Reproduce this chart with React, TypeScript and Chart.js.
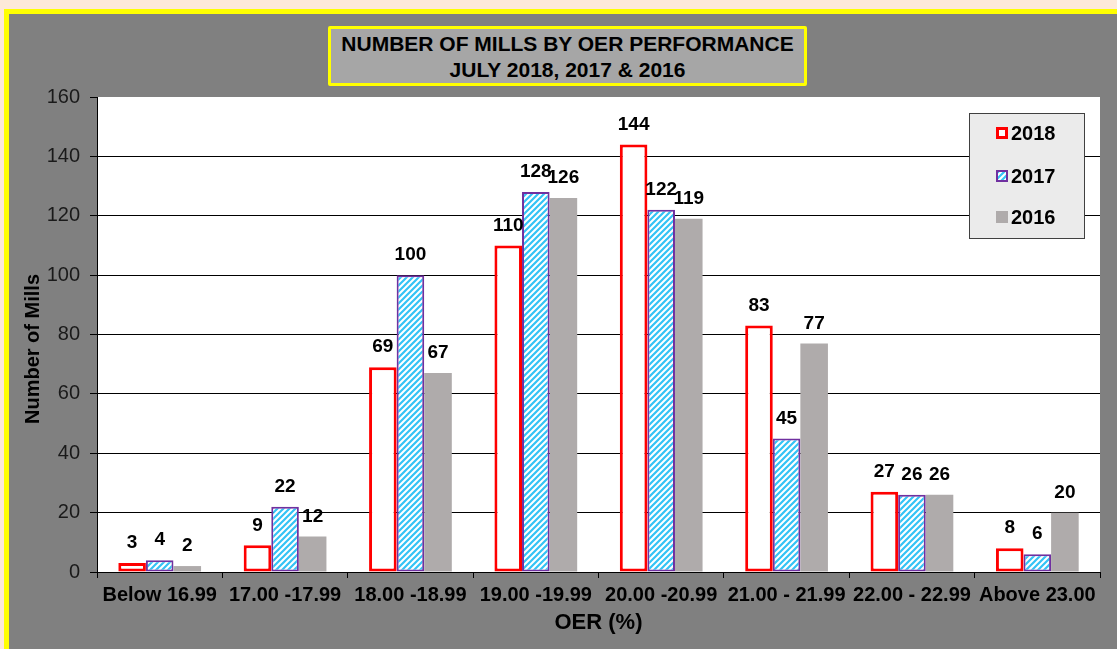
import React, { useEffect, useRef } from "react";
import { Chart, registerables } from "chart.js";

Chart.register(...registerables);

const categories = [
  "Below 16.99",
  "17.00 -17.99",
  "18.00 -18.99",
  "19.00 -19.99",
  "20.00 -20.99",
  "21.00 - 21.99",
  "22.00 - 22.99",
  "Above 23.00",
];
const values2018 = [3, 9, 69, 110, 144, 83, 27, 8];
const values2017 = [4, 22, 100, 128, 122, 45, 26, 6];
const values2016 = [2, 12, 67, 126, 119, 77, 26, 20];
const seriesNames = ["2018", "2017", "2016"];
const yMin = 0;
const yMax = 160;
const yStep = 20;
const titleLines = ["NUMBER OF MILLS BY OER PERFORMANCE", "JULY 2018, 2017 & 2016"];
const xTitle = "OER (%)";
const yTitle = "Number of Mills";

const FONT = '"Liberation Sans", Arial, Helvetica, sans-serif';
const RED = "#ff0000";
const PURPLE = "#7030a0";
const BLUE = "#33c3f5";
const GRAY16 = "#afabab";

function makeStripePattern(ctx: CanvasRenderingContext2D): CanvasPattern | string {
  const p = document.createElement("canvas");
  p.width = 6;
  p.height = 6;
  const c = p.getContext("2d");
  if (!c) return BLUE;
  c.fillStyle = "#ffffff";
  c.fillRect(0, 0, 6, 6);
  c.strokeStyle = BLUE;
  c.lineWidth = 2.2;
  c.beginPath();
  c.moveTo(-1, 7);
  c.lineTo(7, -1);
  c.moveTo(-4, 4);
  c.lineTo(4, -4);
  c.moveTo(2, 10);
  c.lineTo(10, 2);
  c.stroke();
  return ctx.createPattern(p, "repeat") || BLUE;
}

export default function App() {
  const canvasRef = useRef<HTMLCanvasElement | null>(null);

  useEffect(() => {
    const canvas = canvasRef.current;
    if (!canvas) return;
    const ctx = canvas.getContext("2d");
    if (!ctx) return;
    const stripe = makeStripePattern(ctx);

    const plotBg = {
      id: "plotBg",
      beforeDraw(chart: any) {
        const { ctx: c, chartArea: a } = chart;
        c.save();
        c.fillStyle = "#ffffff";
        c.fillRect(a.left, a.top, a.right - a.left, a.bottom - a.top);
        c.restore();
      },
    };

    const yAxisTitle = {
      id: "yAxisTitle",
      afterDraw(chart: any) {
        const c = chart.ctx;
        c.save();
        c.translate(33, 349);
        c.rotate(-Math.PI / 2);
        c.font = `bold 20px ${FONT}`;
        c.fillStyle = "#000000";
        c.textAlign = "center";
        c.textBaseline = "middle";
        c.fillText(yTitle, 0, 0);
        c.restore();
      },
    };

    const valueLabels = {
      id: "valueLabels",
      afterDatasetsDraw(chart: any) {
        const c = chart.ctx;
        c.save();
        c.font = `bold 19px ${FONT}`;
        c.fillStyle = "#000000";
        c.textAlign = "center";
        c.textBaseline = "middle";
        chart.data.datasets.forEach((ds: any, di: number) => {
          const meta = chart.getDatasetMeta(di);
          meta.data.forEach((el: any, i: number) => {
            c.fillText(String(ds.data[i]), el.x, el.y - 20);
          });
        });
        c.restore();
      },
    };

    const legendBox = {
      id: "legendBox",
      afterDraw(chart: any) {
        const c = chart.ctx;
        const bx = 969, by = 113, bw = 116, bh = 126;
        c.save();
        c.fillStyle = "#ebebeb";
        c.fillRect(bx, by, bw, bh);
        c.strokeStyle = "#404040";
        c.lineWidth = 1;
        c.strokeRect(bx + 0.5, by + 0.5, bw - 1, bh - 1);
        const rows = [133, 176, 217];
        c.font = `bold 20px ${FONT}`;
        c.textAlign = "left";
        c.textBaseline = "middle";
        chart.data.datasets.forEach((ds: any, i: number) => {
          const y = rows[i];
          const sx = 996, sy = y - 6, s = 12;
          if (i === 0) {
            c.fillStyle = RED;
            c.fillRect(sx, sy, s, s);
            c.fillStyle = "#ffffff";
            c.fillRect(sx + 3, sy + 3, s - 6, s - 6);
          } else if (i === 1) {
            c.fillStyle = PURPLE;
            c.fillRect(sx, sy, s, s);
            c.fillStyle = stripe;
            c.fillRect(sx + 2, sy + 2, s - 4, s - 4);
          } else {
            c.fillStyle = GRAY16;
            c.fillRect(sx, sy, s, s);
          }
          c.fillStyle = "#000000";
          c.fillText(ds.label, 1011, y + 1);
        });
        c.restore();
      },
    };

    const chart = new Chart(canvas, {
      type: "bar",
      data: {
        labels: categories,
        datasets: [
          {
            label: seriesNames[0],
            data: values2018,
            backgroundColor: "#ffffff",
            borderColor: RED,
            borderWidth: 3,
            borderSkipped: false,
          },
          {
            label: seriesNames[1],
            data: values2017,
            backgroundColor: stripe as any,
            borderColor: PURPLE,
            borderWidth: 2,
            borderSkipped: false,
          },
          {
            label: seriesNames[2],
            data: values2016,
            backgroundColor: GRAY16,
            borderWidth: 0,
          },
        ],
      },
      options: {
        responsive: false,
        animation: false,
        datasets: {
          bar: { categoryPercentage: 0.66, barPercentage: 1.0 },
        },
        layout: { padding: { top: 97, right: 17, left: 0, bottom: 0 } },
        plugins: {
          legend: { display: false },
          title: { display: false },
          tooltip: { enabled: false },
        },
        scales: {
          x: {
            grid: {
              drawOnChartArea: false,
              drawTicks: true,
              tickLength: 6,
              color: "#000000",
              offset: true,
            },
            border: { color: "#000000", width: 1 },
            ticks: {
              color: "#000000",
              font: { family: FONT, size: 20, weight: "bold" },
              padding: 5,
              maxRotation: 0,
              minRotation: 0,
              autoSkip: false,
            },
            title: {
              display: true,
              text: xTitle,
              color: "#000000",
              font: { family: FONT, size: 22, weight: "bold" },
              padding: { top: 0, bottom: 13 },
            },
            afterFit(scale: any) {
              scale.height = 77;
            },
          },
          y: {
            min: yMin,
            max: yMax,
            ticks: {
              stepSize: yStep,
              color: "#1a1a1a",
              font: { family: FONT, size: 20 },
              padding: 10,
            },
            grid: {
              color: (c: any) =>
                c.tick && c.tick.value === yMax ? "rgba(0,0,0,0)" : "#000000",
              tickColor: "#000000",
              tickLength: 7,
              lineWidth: 1,
            },
            border: { color: "#000000", width: 1 },
            title: { display: false },
            afterFit(scale: any) {
              scale.width = 97;
            },
          },
        },
      } as any,
      plugins: [plotBg, valueLabels, legendBox, yAxisTitle],
    });

    return () => {
      chart.destroy();
    };
  }, []);

  return (
    <div
      style={{
        position: "fixed",
        left: 0,
        top: 0,
        width: 1117,
        height: 649,
        background: "#fde9d9",
        overflow: "hidden",
      }}
    >
      <div
        style={{
          position: "absolute",
          left: 4,
          top: 9,
          width: 1200,
          height: 700,
          borderTop: "5px solid #ffff00",
          borderLeft: "5px solid #ffff00",
          background: "#808080",
        }}
      />
      <canvas
        ref={canvasRef}
        width={1117}
        height={649}
        style={{ position: "absolute", left: 0, top: 0, display: "block" }}
      />
      <div
        style={{
          position: "absolute",
          left: 328,
          top: 26,
          width: 479,
          height: 60,
          boxSizing: "border-box",
          border: "3px solid #ffff00",
          borderRadius: 2,
          background: "#a6a6a6",
          fontFamily: FONT,
          fontWeight: "bold",
          fontSize: 21,
          lineHeight: "26px",
          textAlign: "center",
          color: "#000000",
          paddingTop: 2,
        }}
      >
        {titleLines.map((t, i) => (
          <div key={i}>{t}</div>
        ))}
      </div>
    </div>
  );
}
